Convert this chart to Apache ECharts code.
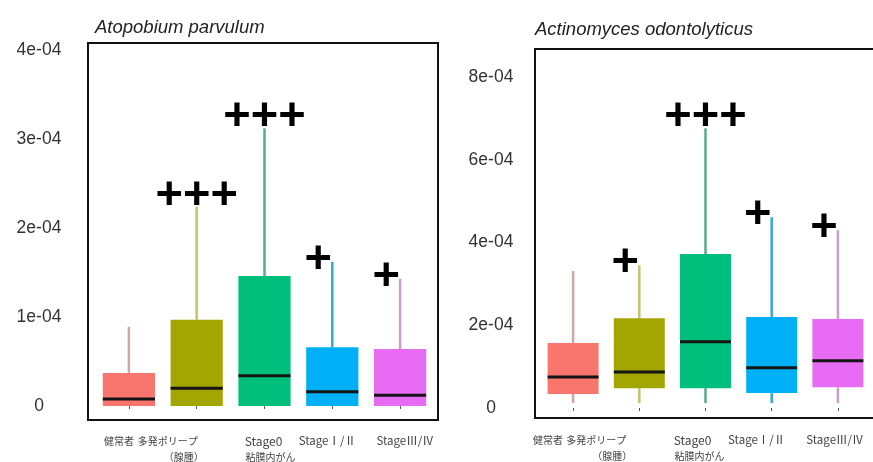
<!DOCTYPE html>
<html><head><meta charset="utf-8">
<script src="https://cdn.jsdelivr.net/npm/echarts@6/dist/echarts.min.js"></script>
<style>html,body{margin:0;padding:0;background:#fff}#c{width:873px;height:462px}</style>
</head><body><div id="c"></div>
<script>
// ---------- data ----------
const categories = ['健常者', '多発ポリープ', 'Stage0', 'StageⅠ/Ⅱ', 'StageⅢ/Ⅳ'];
const categorySub = ['', '（腺腫）', '粘膜内がん', '', ''];
const titleA = 'Atopobium parvulum';
const titleB = 'Actinomyces odontolyticus';

// Atopobium parvulum
const aMin = [0, 0, 0, 0, 0];
const aQ1 = [0, 0, 0, 0, 0];
const aMed = [0.08e-4, 0.20e-4, 0.34e-4, 0.16e-4, 0.12e-4];
const aQ3 = [0.37e-4, 0.97e-4, 1.46e-4, 0.66e-4, 0.64e-4];
const aMax = [0.89e-4, 2.24e-4, 3.12e-4, 1.62e-4, 1.43e-4];
const aSig = ['', '+++', '+++', '+', '+'];
const aTicks = [0, 1e-4, 2e-4, 3e-4, 4e-4];
const aTickLabels = ['0', '1e-04', '2e-04', '3e-04', '4e-04'];

// Actinomyces odontolyticus
const bMin = [0.12e-4, 0.12e-4, 0.12e-4, 0.12e-4, 0.12e-4];
const bQ1 = [0.34e-4, 0.48e-4, 0.48e-4, 0.36e-4, 0.50e-4];
const bMed = [0.75e-4, 0.87e-4, 1.60e-4, 0.97e-4, 1.14e-4];
const bQ3 = [1.57e-4, 2.17e-4, 3.72e-4, 2.20e-4, 2.15e-4];
const bMax = [3.31e-4, 3.45e-4, 6.76e-4, 4.61e-4, 4.30e-4];
const bSig = ['', '+', '+++', '+', '+'];
const bTicks = [0, 2e-4, 4e-4, 6e-4, 8e-4];
const bTickLabels = ['0', '2e-04', '4e-04', '6e-04', '8e-04'];

// ---------- styles ----------
const fills = ['#F8766D', '#A3A500', '#00BF7D', '#00B0F6', '#E76BF3'];
const whiskers = ['#cfa7a4', '#c7c26e', '#55ab8f', '#35a7d6', '#cf9ad2'];
const shiftA1 = [-10, -29, -1, -5, 5], shiftA2 = [0, -13, 6, 0, 0];
const shiftB1 = [-25, -43, -13, -15, -3], shiftB2 = [0, -27, -6, 0, 0];
const rowOneSize = [10, 10, 12, 11.5, 11.5];

function pad(d) { return d < 0 ? [0, -2 * d, 0, 0] : [0, 0, 0, 2 * d]; }
function makeRich(s1, s2) {
  const r = {};
  for (let i = 0; i < categories.length; i++) {
    const base = { align: 'center', lineHeight: 16, color: '#444', fontFamily: 'Noto Sans CJK JP' };
    r['t' + i] = Object.assign({ padding: pad(s1[i]), fontSize: rowOneSize[i] }, base);
    r['s' + i] = Object.assign({ padding: pad(s2[i]), fontSize: 10 }, base);
  }
  return r;
}
function xFmt(v, idx) {
  let s = '{t' + idx + '|' + categories[idx] + '}';
  if (categorySub[idx]) s += '\n{s' + idx + '|' + categorySub[idx] + '}';
  return s;
}
function yFmt(ticks, labels) {
  return function (v) {
    let best = 0, bd = Infinity;
    ticks.forEach((t, i) => { const d = Math.abs(t - v); if (d < bd) { bd = d; best = i; } });
    return labels[best];
  };
}
function makeRender(sig) {
  return function (params, api) {
    const i = params.dataIndex;
    const x = api.value(0);
    const vMin = api.value(1), q1 = api.value(2), med = api.value(3), q3 = api.value(4), vMax = api.value(5);
    const band = api.size([1, 0])[0];
    const w = band * 0.77;
    const pMin = api.coord([x, vMin]), pQ1 = api.coord([x, q1]), pMed = api.coord([x, med]),
          pQ3 = api.coord([x, q3]), pMax = api.coord([x, vMax]);
    const cx = pMed[0];
    const ch = [];
    ch.push({ type: 'line', shape: { x1: cx, y1: pQ3[1], x2: cx, y2: pMax[1] }, style: { stroke: whiskers[i], lineWidth: 2.5 } });
    if (vMin < q1) ch.push({ type: 'line', shape: { x1: cx, y1: pMin[1], x2: cx, y2: pQ1[1] }, style: { stroke: whiskers[i], lineWidth: 2.5 } });
    ch.push({ type: 'rect', shape: { x: cx - w / 2, y: pQ3[1], width: w, height: pQ1[1] - pQ3[1] }, style: { fill: fills[i] } });
    ch.push({ type: 'line', shape: { x1: cx - w / 2, y1: pMed[1], x2: cx + w / 2, y2: pMed[1] }, style: { stroke: '#151515', lineWidth: 3 } });
    if (sig[i]) {
      const multi = sig[i].length > 1;
      ch.push({ type: 'text', x: multi ? cx : cx - 14, y: pMax[1] - (multi ? 11 : 2),
        style: { text: sig[i], fill: '#000', font: 'bold 47px "Liberation Sans"', align: 'center', verticalAlign: 'middle' } });
    }
    return { type: 'group', children: ch };
  };
}
function rows(mn, q1, md, q3, mx) { return mn.map((_, i) => [i, mn[i], q1[i], md[i], q3[i], mx[i]]); }

const hiddenAxis = (g) => ({ type: 'value', gridIndex: g, min: 0, max: 1, show: false });
const chart = echarts.init(document.getElementById('c'), null, { renderer: 'canvas' });
chart.setOption({
  animation: false,
  backgroundColor: '#fff',
  title: [
    { text: titleA, left: 95, top: 18, padding: 0, textStyle: { fontStyle: 'italic', fontWeight: 'normal', fontSize: 18.5, color: '#222', fontFamily: 'Liberation Sans' } },
    { text: titleB, left: 535, top: 20, padding: 0, textStyle: { fontStyle: 'italic', fontWeight: 'normal', fontSize: 18.5, color: '#222', fontFamily: 'Liberation Sans' } }
  ],
  grid: [
    { left: 88, right: 435, top: 43, bottom: 42, show: true, borderColor: '#111', borderWidth: 2, backgroundColor: 'transparent', outerBoundsMode: 'none', containLabel: false },
    { left: 95, right: 439, top: 50, bottom: 56, outerBoundsMode: 'none', containLabel: false },
    { left: 535, right: -10, top: 49, bottom: 44, show: true, borderColor: '#111', borderWidth: 2, backgroundColor: 'transparent', outerBoundsMode: 'none', containLabel: false },
    { left: 540, right: 2, top: 77, bottom: 54, outerBoundsMode: 'none', containLabel: false }
  ],
  xAxis: [
    hiddenAxis(0),
    { type: 'category', gridIndex: 1, data: categories, offset: 14, axisLine: { show: false },
      axisTick: { show: true, alignWithLabel: true, length: 3, lineStyle: { color: '#555' } },
      axisLabel: { interval: 0, margin: 13, formatter: xFmt, rich: makeRich(shiftA1, shiftA2), fontSize: 10, lineHeight: 16, color: '#444', fontFamily: 'Noto Sans CJK JP' } },
    hiddenAxis(2),
    { type: 'category', gridIndex: 3, data: categories, offset: 10, axisLine: { show: false },
      axisTick: { show: true, alignWithLabel: true, length: 3, lineStyle: { color: '#555' } },
      axisLabel: { interval: 0, margin: 14, formatter: xFmt, rich: makeRich(shiftB1, shiftB2), fontSize: 10, lineHeight: 16, color: '#444', fontFamily: 'Noto Sans CJK JP' } }
  ],
  yAxis: [
    hiddenAxis(0),
    { type: 'value', gridIndex: 1, min: 0, max: 4e-4, interval: 1e-4, axisLine: { show: false }, axisTick: { show: false }, splitLine: { show: false },
      axisLabel: { margin: 56, align: 'center', fontSize: 17.5, color: '#333', fontFamily: 'Liberation Sans', formatter: yFmt(aTicks, aTickLabels) } },
    hiddenAxis(2),
    { type: 'value', gridIndex: 3, min: 0, max: 8e-4, interval: 2e-4, axisLine: { show: false }, axisTick: { show: false }, splitLine: { show: false },
      axisLabel: { margin: 49, align: 'center', fontSize: 17.5, color: '#333', fontFamily: 'Liberation Sans', formatter: yFmt(bTicks, bTickLabels) } }
  ],
  series: [
    { type: 'custom', xAxisIndex: 1, yAxisIndex: 1, renderItem: makeRender(aSig), encode: { x: 0, y: [1, 2, 3, 4, 5] },
      data: rows(aMin, aQ1, aMed, aQ3, aMax) },
    { type: 'custom', xAxisIndex: 3, yAxisIndex: 3, renderItem: makeRender(bSig), encode: { x: 0, y: [1, 2, 3, 4, 5] },
      data: rows(bMin, bQ1, bMed, bQ3, bMax) }
  ]
});
</script></body></html>
